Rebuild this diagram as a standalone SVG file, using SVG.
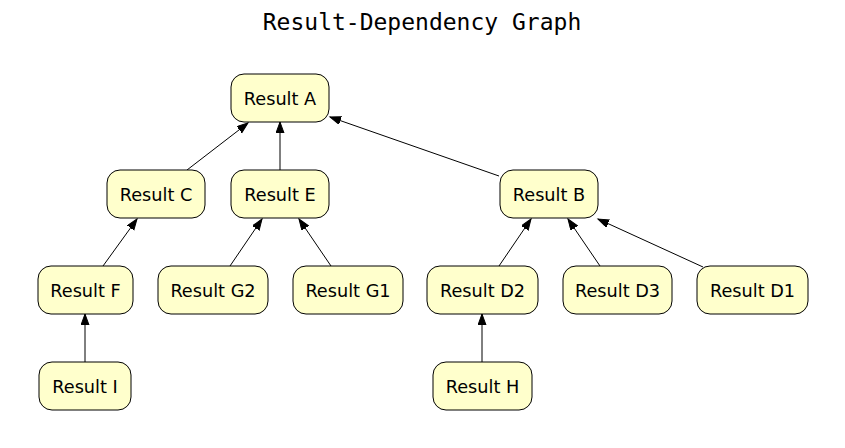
<svg xmlns="http://www.w3.org/2000/svg" width="845" height="448" viewBox="0 0 845 448">
<style>
.n rect{fill:#ffffcc;stroke:#000;stroke-width:1}
.n text{font-family:"DejaVu Sans",sans-serif;font-size:17.7px;text-anchor:middle;fill:#000}
.e line{stroke:#000;stroke-width:1;marker-end:url(#ah)}
.t{font-family:"DejaVu Sans Mono",monospace;font-size:23px;text-anchor:middle;fill:#000}
</style>
<defs>
<marker id="ah" markerUnits="userSpaceOnUse" markerWidth="13" markerHeight="10" refX="11" refY="4" orient="auto">
<path d="M0,0 L11,4 L0,8 z" fill="#000" stroke="#000"/>
</marker>
</defs>
<rect width="845" height="448" fill="#fff"/>
<text class="t" x="422" y="30">Result-Dependency Graph</text>
<g class="e">
<line x1="187" y1="170" x2="248" y2="123"/>
<line x1="280" y1="170" x2="280" y2="122"/>
<line x1="499" y1="176" x2="330" y2="117"/>
<line x1="103" y1="266" x2="137" y2="219"/>
<line x1="230" y1="266" x2="262" y2="219"/>
<line x1="331" y1="266" x2="299" y2="219"/>
<line x1="499" y1="266" x2="531" y2="219"/>
<line x1="600" y1="266" x2="568" y2="219"/>
<line x1="703" y1="267" x2="598" y2="219"/>
<line x1="85" y1="363" x2="85" y2="314"/>
<line x1="482" y1="363" x2="482" y2="314"/>
</g>
<g id="A" class="n"><rect x="231" y="74" width="98" height="48" rx="13"/><text x="280" y="104.5">Result A</text></g>
<g id="C" class="n"><rect x="107" y="170" width="98" height="48" rx="13"/><text x="156" y="200.5">Result C</text></g>
<g id="E" class="n"><rect x="231" y="170" width="98" height="48" rx="13"/><text x="280" y="200.5">Result E</text></g>
<g id="B" class="n"><rect x="500" y="170" width="98" height="48" rx="13"/><text x="549" y="200.5">Result B</text></g>
<g id="F" class="n"><rect x="38" y="266" width="95" height="48" rx="13"/><text x="85.5" y="296.5">Result F</text></g>
<g id="G2" class="n"><rect x="158" y="266" width="110" height="48" rx="13"/><text x="213" y="296.5">Result G2</text></g>
<g id="G1" class="n"><rect x="293" y="266" width="110" height="48" rx="13"/><text x="348" y="296.5">Result G1</text></g>
<g id="D2" class="n"><rect x="427" y="266" width="111" height="48" rx="13"/><text x="482.5" y="296.5">Result D2</text></g>
<g id="D3" class="n"><rect x="563" y="266" width="109" height="48" rx="13"/><text x="617.5" y="296.5">Result D3</text></g>
<g id="D1" class="n"><rect x="697" y="266" width="111" height="48" rx="13"/><text x="752.5" y="296.5">Result D1</text></g>
<g id="I" class="n"><rect x="39" y="362" width="92" height="48" rx="13"/><text x="85" y="392.5">Result I</text></g>
<g id="H" class="n"><rect x="433" y="362" width="99" height="48" rx="13"/><text x="482.5" y="392.5">Result H</text></g>
</svg>
